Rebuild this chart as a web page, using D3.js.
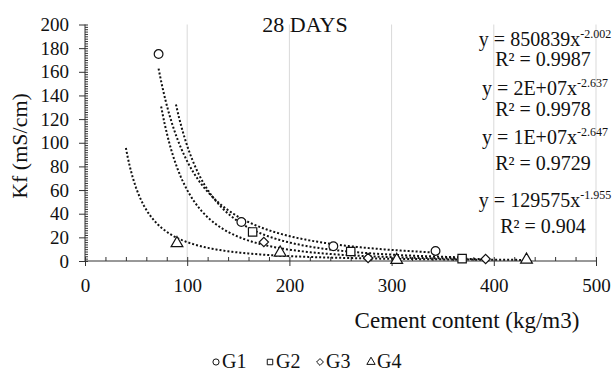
<!DOCTYPE html>
<html>
<head>
<meta charset="utf-8">
<script src="https://cdn.jsdelivr.net/npm/d3@7/dist/d3.min.js"></script>
<style>
  html, body { margin: 0; padding: 0; background: #fff; }
</style>
</head>
<body>
<svg id="chart" width="615" height="373"></svg>
<script>
// Kf vs cement content, 28 days
const seriesNames = ["G1", "G2", "G3", "G4"];
const g1Cement = [72, 153, 243, 343];
const g1Kf     = [175, 33, 12.5, 8.5];
const g2Cement = [164, 260, 369];
const g2Kf     = [24.6, 8, 2];
const g3Cement = [175, 277, 392];
const g3Kf     = [16, 2.5, 1.7];
const g4Cement = [90, 191, 305, 432];
const g4Kf     = [15, 7, 0.8, 1];

// Power trendlines y = a * x^b and their drawn x spans
const fitCoef  = [850839, 1.83e7, 1.18e7, 129575];
const fitExp   = [-2.002, -2.637, -2.647, -1.955];
const fitR2    = ["0.9987", "0.9978", "0.9729", "0.904"];
const fitStart = [72, 89, 74.5, 40];
const fitEnd   = [343, 369, 392, 432];

const xTicks = [0, 100, 200, 300, 400, 500];
const yTicks = [0, 20, 40, 60, 80, 100, 120, 140, 160, 180, 200];

const SERIF = "'Liberation Serif', 'Times New Roman', 'DejaVu Serif', serif";

const svg = d3.select("#chart");
const x = d3.scaleLinear().domain([0, 500]).range([85, 596]);
const y = d3.scaleLinear().domain([0, 200]).range([261, 24.5]);

// vertical gridlines
svg.append("g").selectAll("line").data(xTicks.slice(1)).join("line")
  .attr("x1", d => x(d)).attr("x2", d => x(d))
  .attr("y1", y(200)).attr("y2", y(0))
  .attr("stroke", "#d9d9d9").attr("stroke-width", 1);

// y axis: long outer major ticks, short inner minor ticks
const yAxisG = svg.append("g").attr("transform", `translate(${x(0)},0)`);
yAxisG.call(d3.axisLeft(y).tickValues(yTicks).tickSize(6).tickPadding(10))
  .call(g => g.select(".domain").remove());
yAxisG.append("g").call(d3.axisRight(y).tickValues(d3.range(0, 201, 2)).tickSize(3).tickFormat(""))
  .call(g => g.select(".domain").remove());
yAxisG.append("line").attr("y1", y(0)).attr("y2", y(200));
yAxisG.selectAll("line").attr("stroke", "#333");

// x axis: crossing major ticks, upward minor ticks
const xAxisG = svg.append("g").attr("transform", `translate(0,${y(0)})`);
xAxisG.call(d3.axisBottom(x).tickValues(xTicks).tickSize(5).tickPadding(13))
  .call(g => g.select(".domain").remove());
xAxisG.append("g").call(d3.axisTop(x).tickValues(d3.range(0, 501, 20)).tickSize(4).tickFormat(""))
  .call(g => g.select(".domain").remove());
xAxisG.append("line").attr("x1", x(0)).attr("x2", x(500));
xAxisG.selectAll("line").attr("stroke", "#333");

[yAxisG, xAxisG].forEach(g => {
  g.attr("font-family", null).attr("font-size", null);
  g.selectAll("text").style("font-family", SERIF).style("font-size", "19px").attr("fill", "#111");
});

// trendlines
const line = d3.line().x(d => x(d[0])).y(d => y(d[1]));
seriesNames.forEach((name, i) => {
  const pts = d3.range(0, 201).map(k => {
    const cx = fitStart[i] + (fitEnd[i] - fitStart[i]) * k / 200;
    return [cx, fitCoef[i] * Math.pow(cx, fitExp[i])];
  });
  svg.append("path").datum(pts).attr("d", line)
    .attr("fill", "none").attr("stroke", "#111")
    .attr("stroke-width", 2).attr("stroke-dasharray", "2,2");
});

// markers
const shapes = [d3.symbolCircle, d3.symbolSquare, d3.symbolDiamond2, d3.symbolTriangle];
const sizes = [60, 70, 55, 60];
const seriesData = [
  d3.zip(g1Cement, g1Kf), d3.zip(g2Cement, g2Kf),
  d3.zip(g3Cement, g3Kf), d3.zip(g4Cement, g4Kf)
];
seriesData.forEach((pts, i) => {
  svg.append("g").selectAll("path").data(pts).join("path")
    .attr("transform", d => `translate(${x(d[0])},${y(d[1])})`)
    .attr("d", d3.symbol().type(shapes[i]).size(sizes[i]))
    .attr("fill", "#fff").attr("stroke", "#111").attr("stroke-width", 1.2);
});

function label(sel) {
  return sel.style("font-family", SERIF).attr("fill", "#111");
}

// equation labels
function fmtCoef(a) {
  if (a >= 1e7) {
    const e = Math.floor(Math.log10(a));
    const m = Math.round(a / Math.pow(10, e));
    return `${m}E+${String(e).padStart(2, "0")}`;
  }
  return String(a);
}
const eqBase = [46, 95, 144, 207];
const r2Base = [66, 116, 170, 233];
seriesNames.forEach((name, i) => {
  const t = label(svg.append("text")).attr("x", 545).attr("y", eqBase[i])
    .attr("text-anchor", "middle").style("font-size", "20px");
  t.append("tspan").text(`y = ${fmtCoef(fitCoef[i])}x`);
  t.append("tspan").attr("dy", -8).style("font-size", "12px").text(fitExp[i].toFixed(3));
  label(svg.append("text")).attr("x", 543).attr("y", r2Base[i])
    .attr("text-anchor", "middle").style("font-size", "20px")
    .text(`R² = ${fitR2[i]}`);
});

// titles
label(svg.append("text")).attr("x", 305).attr("y", 32).attr("text-anchor", "middle")
  .style("font-size", "22px").text("28 DAYS");
label(svg.append("text")).attr("x", 467).attr("y", 328).attr("text-anchor", "middle")
  .style("font-size", "23px").text("Cement content (kg/m3)");
label(svg.append("text")).attr("transform", "translate(27,146) rotate(-90)")
  .attr("text-anchor", "middle").style("font-size", "22px").text("Kf (mS/cm)");

// legend
const legendX = [216, 270, 320, 371];
seriesNames.forEach((name, i) => {
  svg.append("path").attr("transform", `translate(${legendX[i]},362)`)
    .attr("d", d3.symbol().type(shapes[i]).size(30))
    .attr("fill", "#fff").attr("stroke", "#111").attr("stroke-width", 1);
  label(svg.append("text")).attr("x", legendX[i] + 6).attr("y", 368)
    .style("font-size", "20px").text(name);
});
</script>
</body>
</html>
